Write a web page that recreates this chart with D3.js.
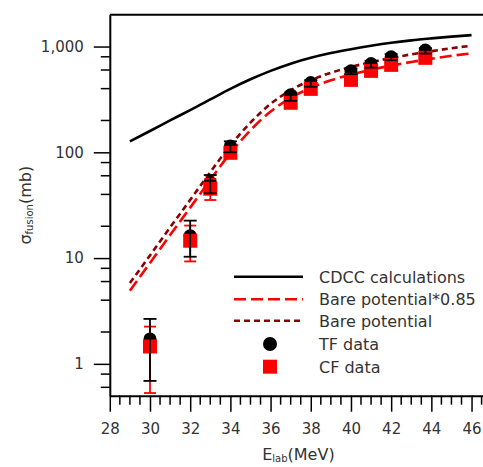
<!DOCTYPE html>
<html lang="en">
<head>
  <meta charset="UTF-8" />
  <title>Fusion cross section</title>
  <style>
    body { margin: 0; background: #fff; }
    svg { display: block; }
  </style>
  <script src="https://cdn.jsdelivr.net/npm/d3@7"></script>
</head>
<body>
  <script>
    // calculations (E_lab in MeV, sigma in mb)
    const calcE = [29, 30, 31, 32, 33, 34, 35, 36, 37, 38, 39, 40, 41, 42, 43, 44, 45, 46];
    const cdcc = [127, 159, 200, 251, 316, 398, 490, 589, 689, 782, 867, 944, 1016, 1084, 1143, 1194, 1242, 1282];
    const bare085 = [4.9, 9.0, 16.5, 30, 55, 98, 162, 243, 327, 407, 479, 543, 603, 661, 714, 766, 817, 863];
    const bare = [5.8, 10.6, 19.5, 35.5, 65, 116, 191, 287, 386, 480, 565, 641, 712, 780, 843, 904, 964, 1018];

    // measured data
    const dataE = [30, 32, 33, 34, 37, 38, 40, 41, 42, 43.7];
    const tf = [1.72, 16.3, 52, 115, 350, 457, 589, 691, 800, 925];
    const tfLo = [0.69, 10.3, 41, 100, 307, 417, 548, 632, 743, 859];
    const tfHi = [2.66, 22.6, 61, 127, 368, 482, 620, 733, 848, 966];
    const cf = [1.46, 14.6, 45.3, 99, 294, 398, 484, 589, 671, 782];
    const cfLo = [0.53, 9.3, 35.4, 88, 265, 360, 440, 540, 615, 720];
    const cfHi = [2.25, 20.3, 56, 112, 325, 440, 530, 640, 730, 845];

    const xTicks = [28, 30, 32, 34, 36, 38, 40, 42, 44, 46];
    const yTicks = [1, 10, 100, 1000];
    const legendLabels = ["CDCC calculations", "Bare potential*0.85", "Bare potential", "TF data", "CF data"];

    const W = 483, H = 467;
    const plotLeft = 109.8, plotTop = 14.7, plotBottom = 395.7;

    const svg = d3.select("body").append("svg")
      .attr("width", W).attr("height", H);

    const x = d3.scaleLinear().domain([28, 46.57]).range([plotLeft, W]);
    const y = d3.scaleLog().domain([0.5, 2000]).range([plotBottom, plotTop]);

    const tickFont = "DejaVu Sans, sans-serif";

    // minor ticks
    const xMinor = d3.range(28.5, 46.6, 0.5).filter(v => v % 2 !== 0);
    svg.append("g").selectAll("line").data(xMinor).join("line")
      .attr("x1", d => x(d)).attr("x2", d => x(d))
      .attr("y1", plotBottom).attr("y2", plotBottom + 9)
      .attr("stroke", "#000").attr("stroke-width", 1.5);

    const yMinor = [];
    [0.1, 1, 10, 100].forEach(dec => [2, 4, 6, 8].forEach(m => {
      const v = dec * m;
      if (v >= 0.5 && v <= 2000) yMinor.push(v);
    }));
    svg.append("g").selectAll("line").data(yMinor).join("line")
      .attr("x1", plotLeft - 9).attr("x2", plotLeft)
      .attr("y1", d => y(d)).attr("y2", d => y(d))
      .attr("stroke", "#000").attr("stroke-width", 1.5);

    // axes
    const xAxis = svg.append("g")
      .attr("transform", `translate(0,${plotBottom})`)
      .call(d3.axisBottom(x).tickValues(xTicks).tickSize(16).tickSizeOuter(0).tickPadding(12));
    const yAxis = svg.append("g")
      .attr("transform", `translate(${plotLeft},0)`)
      .call(d3.axisLeft(y).tickValues(yTicks).tickFormat(d3.format(",")).tickSize(16).tickSizeOuter(0).tickPadding(10));
    [xAxis, yAxis].forEach(g => {
      g.select(".domain").attr("stroke-width", 2);
      g.selectAll(".tick line").attr("stroke-width", 1.5);
      g.selectAll(".tick text").attr("font-family", tickFont).attr("font-size", 15).attr("fill", "#333");
    });

    // top frame line
    svg.append("line")
      .attr("x1", plotLeft).attr("x2", W).attr("y1", plotTop).attr("y2", plotTop)
      .attr("stroke", "#000").attr("stroke-width", 2);

    // curves
    const line = vals => d3.line()
      .x((d, i) => x(calcE[i]))
      .y(d => y(d))
      .curve(d3.curveMonotoneX)(vals);

    svg.append("path").attr("d", line(cdcc))
      .attr("fill", "none").attr("stroke", "#000").attr("stroke-width", 2.6);
    svg.append("path").attr("d", line(bare085))
      .attr("fill", "none").attr("stroke", "#ff0000").attr("stroke-width", 2.6)
      .attr("stroke-dasharray", "12,5");
    svg.append("path").attr("d", line(bare))
      .attr("fill", "none").attr("stroke", "#8b0000").attr("stroke-width", 2.6)
      .attr("stroke-dasharray", "6,4");

    // markers
    const gData = svg.append("g");
    gData.selectAll("circle").data(dataE).join("circle")
      .attr("cx", d => x(d)).attr("cy", (d, i) => y(tf[i]))
      .attr("r", 6.5).attr("fill", "#000");
    const sq = 14;
    gData.selectAll("rect").data(dataE).join("rect")
      .attr("x", d => x(d) - sq / 2).attr("y", (d, i) => y(cf[i]) - sq / 2)
      .attr("width", sq).attr("height", sq).attr("fill", "#ff0000");

    function errorBars(lo, hi, color, cap) {
      const g = svg.append("g").attr("stroke", color).attr("stroke-width", 1.8);
      dataE.forEach((e, i) => {
        const cx = x(e);
        g.append("line").attr("x1", cx).attr("x2", cx).attr("y1", y(lo[i])).attr("y2", y(hi[i]));
        [lo[i], hi[i]].forEach(v => g.append("line")
          .attr("x1", cx - cap).attr("x2", cx + cap).attr("y1", y(v)).attr("y2", y(v)));
      });
    }
    errorBars(cfLo, cfHi, "#ff0000", 6);
    errorBars(tfLo, tfHi, "#000", 6.5);

    // axis titles
    svg.append("text")
      .attr("x", (plotLeft + W) / 2 + 2).attr("y", 460)
      .attr("text-anchor", "middle")
      .attr("font-family", tickFont).attr("font-size", 16).attr("fill", "#333")
      .call(t => {
        t.append("tspan").text("E");
        t.append("tspan").attr("font-size", 10).attr("dy", 2).text("lab");
        t.append("tspan").attr("dy", -2).text("(MeV)");
      });

    svg.append("text")
      .attr("transform", `translate(31,${(plotTop + plotBottom) / 2}) rotate(-90)`)
      .attr("text-anchor", "middle")
      .attr("font-family", tickFont).attr("font-size", 16).attr("fill", "#333")
      .call(t => {
        t.append("tspan").text("σ");
        t.append("tspan").attr("font-size", 10).attr("dy", 2).text("fusion");
        t.append("tspan").attr("dy", -2).text("(mb)");
      });

    // legend
    const legRows = [276.7, 299.3, 320.7, 344, 366.7];
    const lg = svg.append("g");
    const lx1 = 234, lx2 = 303, mx = 270, tx = 319;
    lg.append("line").attr("x1", lx1).attr("x2", lx2).attr("y1", legRows[0]).attr("y2", legRows[0])
      .attr("stroke", "#000").attr("stroke-width", 2.6);
    lg.append("line").attr("x1", lx1).attr("x2", lx2).attr("y1", legRows[1]).attr("y2", legRows[1])
      .attr("stroke", "#ff0000").attr("stroke-width", 2.6).attr("stroke-dasharray", "12,5");
    lg.append("line").attr("x1", lx1).attr("x2", lx2).attr("y1", legRows[2]).attr("y2", legRows[2])
      .attr("stroke", "#8b0000").attr("stroke-width", 2.6).attr("stroke-dasharray", "6,4");
    lg.append("circle").attr("cx", mx).attr("cy", legRows[3]).attr("r", 7).attr("fill", "#000");
    lg.append("rect").attr("x", mx - 7).attr("y", legRows[4] - 7).attr("width", 14).attr("height", 14).attr("fill", "#ff0000");
    lg.selectAll("text").data(legendLabels).join("text")
      .attr("x", tx).attr("y", (d, i) => legRows[i] + 6)
      .attr("font-family", tickFont).attr("font-size", 16).attr("fill", "#333")
      .text(d => d);
  </script>
</body>
</html>
